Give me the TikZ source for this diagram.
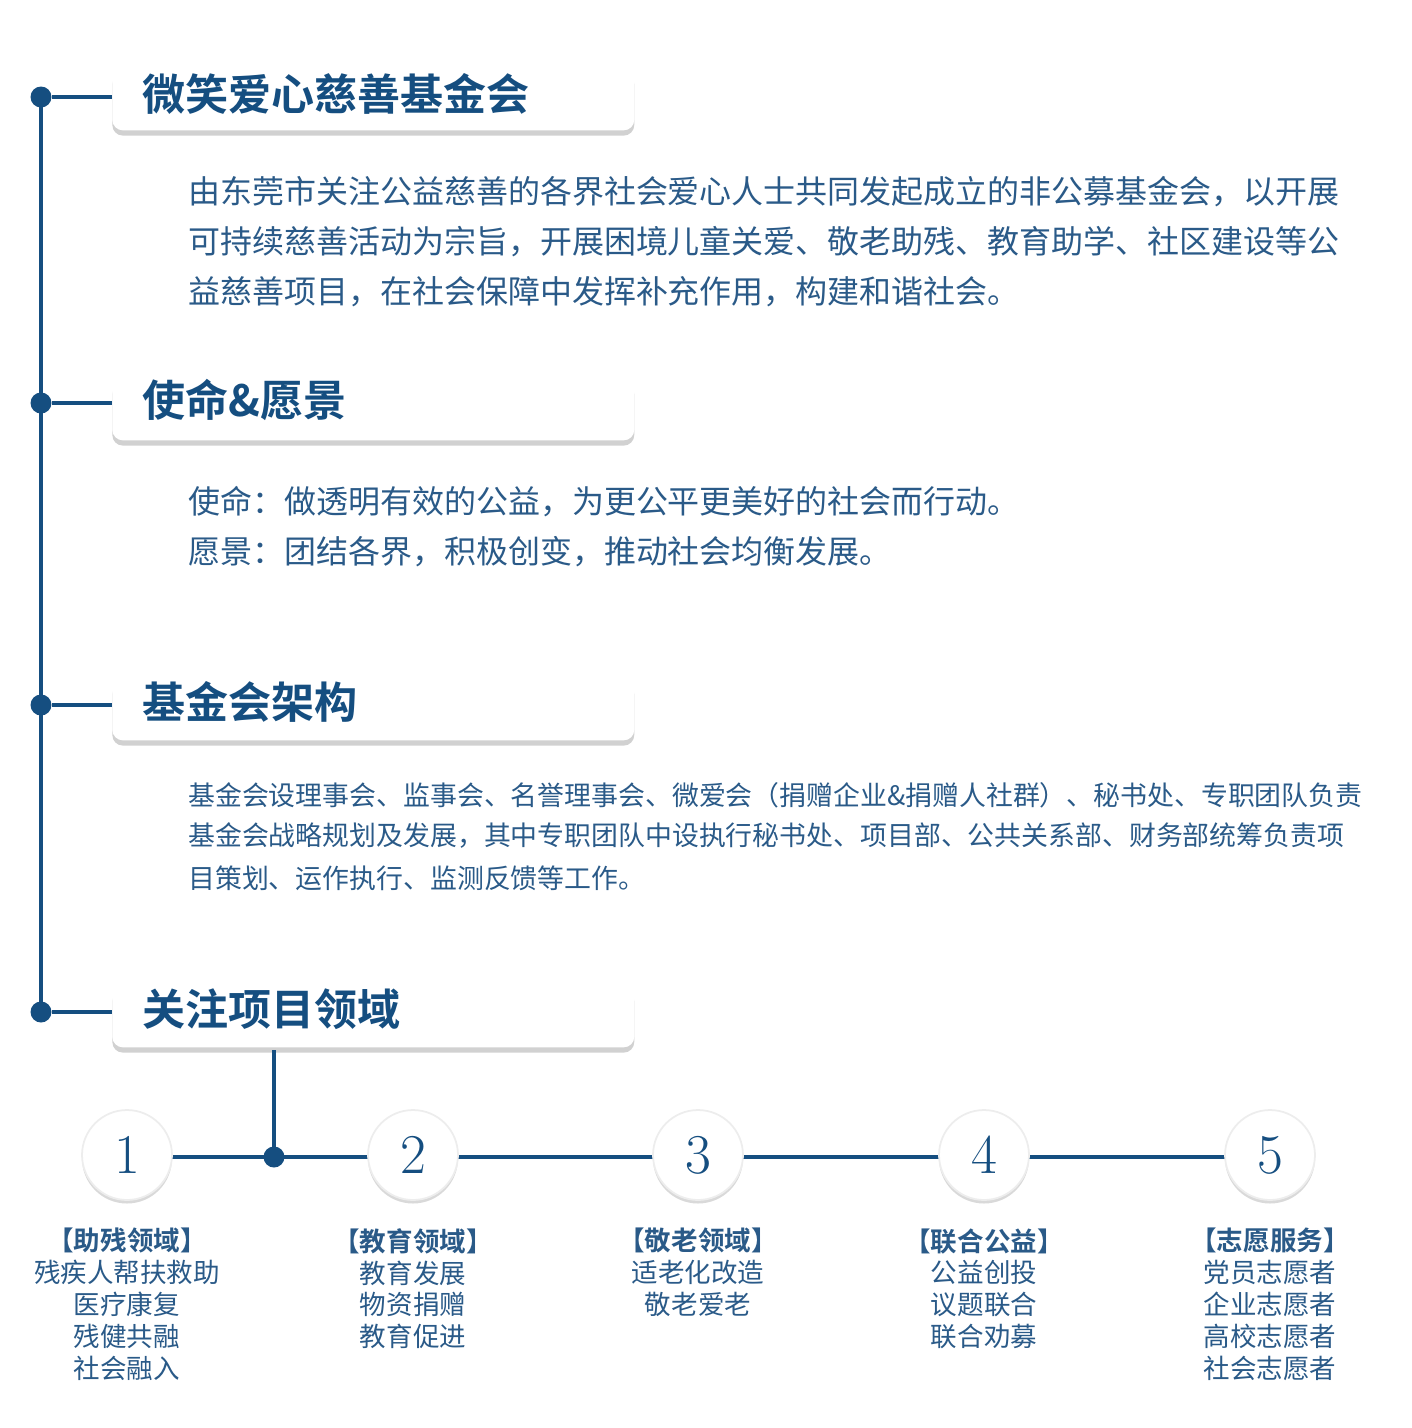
\documentclass[tikz,border=0pt]{standalone}
\usepackage{fontspec}
\newfontfamily\cjk{Noto Sans CJK SC}
\newfontfamily\cjkb{Noto Sans CJK SC Bold}
\usetikzlibrary{shadows}
\definecolor{fdblue}{HTML}{154E80}
\definecolor{fdtext}{HTML}{2A5A88}
\tikzset{
  titlebox/.style={draw=none, fill=white, rounded corners=6pt, minimum width=10.44cm, minimum height=1.24cm,
    drop shadow={shadow xshift=0pt, shadow yshift=-3pt, opacity=.3, fill=black!60}, anchor=north west},
  titletext/.style={font=\cjkb\fontsize{24.5}{26}\selectfont, text=fdblue, anchor=west, inner sep=0pt},
  bodyline/.style={font=\cjk\fontsize{18.2}{20}\selectfont, text=fdtext, anchor=west, inner sep=0pt},
  archline/.style={font=\cjk\fontsize{15.3}{17}\selectfont, text=fdtext, anchor=west, inner sep=0pt},
  numcircle/.style={circle, fill=white, draw=black!7, line width=1pt, minimum size=1.8cm, font=\fontsize{32}{34}\selectfont, text=fdblue,
    drop shadow={shadow xshift=0pt, shadow yshift=-2pt, opacity=.25, fill=black!60}},
  arealabel/.style={font=\cjk\fontsize{15.1}{18.1}\selectfont, text=fdtext, align=center, anchor=north, inner sep=0pt},
  dotmark/.style={circle, fill=fdblue, inner sep=0pt, minimum size=0.42cm},
  linkline/.style={draw=fdblue, line width=2.4pt}
}
\begin{document}
\begin{tikzpicture}[x=0.02cm, y=-0.02cm]
\useasboundingbox (0,0) rectangle (1412,1428);

% spine
\draw[linkline] (41,97) -- (41,1012);

% section titles
\foreach \name/\ytop/\ymid/\txt in {tA/68/97/微笑爱心慈善基金会, tB/378/403/使命\&愿景, tC/678/705/基金会架构, tD/985/1012/关注项目领域} {
  \node[titlebox] (\name) at (112,\ytop) {};
  \node[titletext] at (142,\ymid-3) {\txt};
  \node[dotmark] (d\name) at (41,\ymid) {};
  \draw[linkline] (d\name) -- (112,\ymid);
}

% intro text
\node[bodyline] (p1) at (188,192) {由东莞市关注公益慈善的各界社会爱心人士共同发起成立的非公募基金会，以开展};
\node[bodyline] (p2) at (188,242) {可持续慈善活动为宗旨，开展困境儿童关爱、敬老助残、教育助学、社区建设等公};
\node[bodyline] (p3) at (188,292) {益慈善项目，在社会保障中发挥补充作用，构建和谐社会。};

% mission
\node[bodyline] (m1) at (188,502) {使命：做透明有效的公益，为更公平更美好的社会而行动。};
\node[bodyline] (m2) at (188,552) {愿景：团结各界，积极创变，推动社会均衡发展。};

% structure
\node[archline] (s1) at (188,795) {基金会设理事会、监事会、名誉理事会、微爱会（捐赠企业\&捐赠人社群）、秘书处、专职团队负责};
\node[archline] (s2) at (188,836) {基金会战略规划及发展，其中专职团队中设执行秘书处、项目部、公共关系部、财务部统筹负责项};
\node[archline] (s3) at (188,878) {目策划、运作执行、监测反馈等工作。};

% project areas
\draw[linkline] (274,1050) -- (274,1157);
\draw[linkline] (127,1157) -- (1270,1157);
\node[dotmark] (hub) at (274,1157) {};
\foreach \i/\x/\txt in {1/127/{\cjkb【助残领域】\\残疾人帮扶救助\\医疗康复\\残健共融\\社会融入},
                      2/413/{\cjkb【教育领域】\\教育发展\\物资捐赠\\教育促进},
                      3/698/{\cjkb【敬老领域】\\适老化改造\\敬老爱老},
                      4/984/{\cjkb【联合公益】\\公益创投\\议题联合\\联合劝募},
                      5/1270/{\cjkb【志愿服务】\\党员志愿者\\企业志愿者\\高校志愿者\\社会志愿者}} {
  \node[numcircle] (c\i) at (\x,1155) {\i};
  \node[arealabel] (l\i) at (\x,1228) {\txt};
}
\end{tikzpicture}
\end{document}
